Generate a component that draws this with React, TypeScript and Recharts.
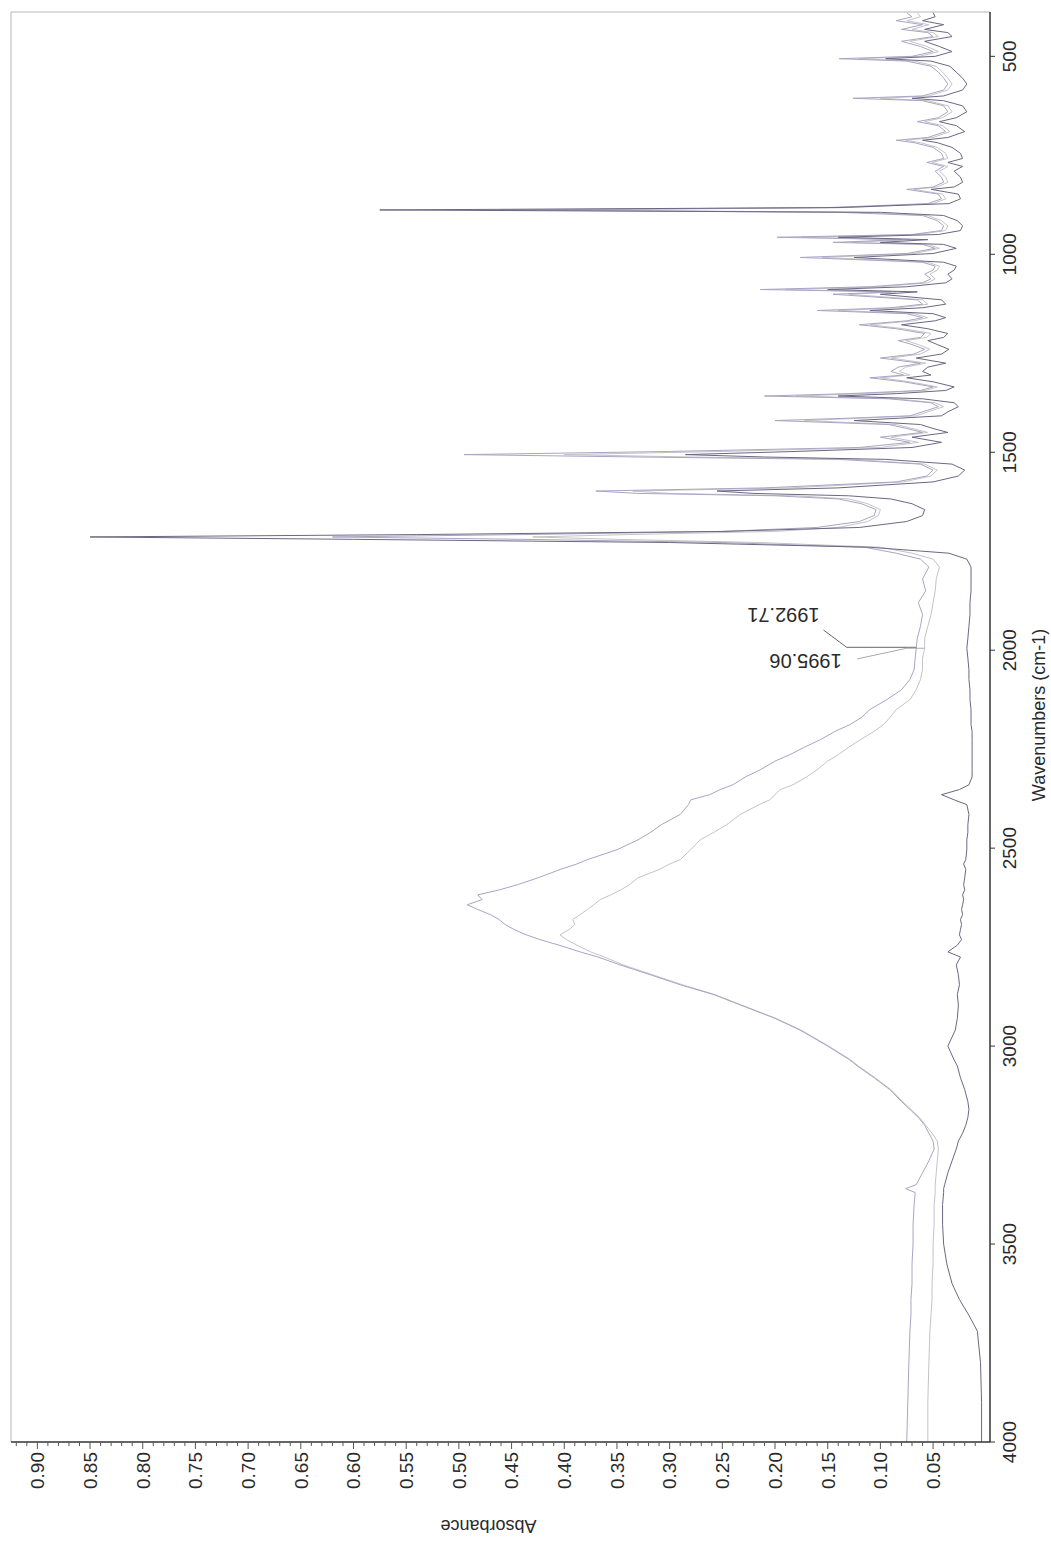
import { LineChart, Line, XAxis, YAxis, ReferenceLine, ReferenceDot } from 'recharts'

// IR spectrum, three overlaid scans.
// wavenumbers (cm-1), descending
const wavenumbers = [
  // 4000-1755
  4000, 3900, 3800, 3720, 3680, 3640, 3600, 3550, 3500, 3450,
  3400, 3370, 3360, 3350, 3320, 3290, 3260, 3240, 3220, 3200,
  3180, 3160, 3140, 3110, 3080, 3050, 3035, 3000, 2960, 2930,
  2896, 2870, 2845, 2820, 2795, 2775, 2762, 2745, 2731, 2719,
  2705, 2693, 2680, 2668, 2655, 2643, 2630, 2618, 2605, 2592,
  2575, 2554, 2540, 2529, 2504, 2479, 2460, 2441, 2415, 2390,
  2378, 2365, 2352, 2340, 2320, 2302, 2280, 2264, 2245, 2226,
  2205, 2188, 2170, 2150, 2125, 2100, 2074, 2049, 2020, 1995,
  1970, 1940, 1910, 1880, 1850, 1820, 1790, 1770, 1755,
  // carbonyl and fingerprint
  1740, 1728, 1720, 1714, 1708, 1700, 1690, 1675, 1660, 1645, 1630,
  1618, 1610, 1604, 1598, 1590, 1575, 1560, 1545, 1530,
  1518, 1512, 1506, 1498, 1488, 1475,
  1462, 1450, 1440, 1430, 1420, 1414, 1408, 1398, 1385,
  1375, 1365, 1358, 1352, 1344, 1335, 1322, 1312, 1305, 1296,
  1285, 1275, 1262, 1252, 1240, 1228, 1218, 1210, 1200, 1188, 1178, 1168, 1160,
  1150, 1142, 1135, 1126, 1115, 1101, 1095, 1089, 1082, 1072, 1062, 1050, 1040,
  1030, 1020, 1008, 998, 985, 975, 970, 963, 957, 950, 940,
  928, 915, 902, 894, 888, 882, 872, 860, 848, 836, 830, 818, 805,
  790, 778, 768, 758, 745, 730, 718, 712, 705, 690, 675, 665, 655, 640,
  625, 612, 606, 600, 585, 570, 555, 540, 525, 512, 506, 500, 488, 475, 462, 450, 440, 432, 420, 410, 400, 390,
]

const purpleTrace = [
  .075, .074, .073, .072, .071, .071, .070, .070, .069, .069,
  .068, .067, .076, .066, .060, .054, .049, .050, .054, .058,
  .064, .072, .080, .091, .106, .122, .129, .150, .176, .200,
  .233, .258, .290, .318, .347, .368, .385, .405, .423, .436,
  .448, .456, .462, .470, .482, .492, .478, .482, .461, .444,
  .425, .404, .388, .378, .350, .330, .318, .308, .290, .282,
  .280, .262, .252, .240, .228, .214, .200, .186, .172, .157,
  .143, .129, .118, .110, .094, .080, .072, .068, .067, .066,
  .065, .062, .060, .064, .057, .060, .054, .062, .085,
  .115, .250, .440, .620, .440, .250, .160, .120, .106, .104, .118,
  .140, .200, .330, .370, .210, .085, .056, .050, .062,
  .140, .330, .495, .300, .120, .072,
  .100, .060, .075, .092, .200, .130, .072, .060, .045,
  .052, .092, .210, .130, .062, .050, .078, .110, .078, .090,
  .083, .062, .100, .068, .058, .070, .083, .062, .058, .085, .120, .075, .060,
  .075, .160, .090, .060, .065, .145, .090, .214, .110, .060, .052, .058, .050,
  .048, .060, .176, .075, .048, .060, .145, .080, .198, .070, .042,
  .040, .046, .060, .140, .460, .150, .055, .042, .045, .075, .050, .040, .042,
  .048, .040, .056, .040, .042, .050, .068, .085, .055, .038, .045, .065, .045, .036,
  .040, .060, .126, .060, .040, .036, .040, .045, .052, .075, .139, .070, .050, .062, .080, .050, .055, .080, .060, .085, .070, .075,
]

const greyTrace = [
  .055, .055, .054, .053, .052, .051, .051, .050, .050, .049,
  .049, .048, .048, .048, .047, .046, .045, .046, .051, .057,
  .063, .071, .079, .090, .105, .121, .128, .149, .175, .199,
  .232, .257, .288, .316, .344, .362, .375, .388, .398, .404,
  .395, .390, .392, .385, .378, .372, .366, .356, .346, .338,
  .330, .310, .300, .290, .280, .271, .258, .246, .233, .215,
  .205, .200, .195, .183, .170, .160, .150, .140, .130, .119,
  .106, .097, .091, .085, .072, .066, .062, .060, .060, .058,
  .058, .055, .052, .050, .048, .047, .044, .050, .070,
  .100, .215, .350, .430, .340, .200, .140, .112, .102, .100, .112,
  .130, .180, .300, .335, .185, .078, .052, .046, .058,
  .125, .280, .400, .250, .100, .064,
  .090, .055, .070, .085, .172, .118, .066, .055, .040,
  .048, .085, .180, .115, .057, .046, .072, .100, .072, .082,
  .076, .057, .090, .062, .053, .064, .076, .056, .052, .078, .110, .068, .055,
  .068, .140, .082, .055, .060, .130, .085, .190, .100, .055, .048, .053, .046,
  .044, .055, .155, .068, .044, .055, .128, .072, .175, .064, .038,
  .036, .042, .055, .120, .400, .130, .050, .038, .041, .068, .046, .036, .038,
  .044, .036, .051, .036, .038, .046, .062, .076, .050, .034, .041, .058, .041, .032,
  .036, .055, .100, .054, .036, .032, .036, .041, .047, .068, .120, .063, .045, .056, .072, .045, .050, .070, .054, .075, .062, .065,
]

const darkTrace = [
  .004, .004, .005, .008, .016, .025, .032, .037, .040, .041,
  .041, .040, .040, .039, .036, .032, .028, .026, .022, .019,
  .017, .016, .017, .020, .024, .027, .030, .036, .029, .027,
  .026, .027, .025, .026, .028, .024, .036, .027, .023, .025,
  .024, .023, .024, .022, .023, .022, .021, .022, .020, .021,
  .020, .019, .021, .019, .018, .018, .017, .017, .016, .018,
  .030, .042, .025, .016, .013, .013, .013, .013, .013, .013,
  .013, .014, .014, .014, .015, .015, .016, .016, .017, .018,
  .017, .016, .015, .015, .014, .014, .014, .018, .035,
  .110, .300, .600, .850, .540, .250, .120, .075, .060, .058, .070,
  .090, .130, .220, .255, .140, .050, .026, .020, .032,
  .095, .210, .285, .180, .070, .042,
  .070, .036, .050, .062, .125, .082, .042, .036, .026,
  .030, .060, .140, .085, .038, .030, .050, .075, .052, .060,
  .055, .038, .066, .042, .035, .046, .055, .040, .036, .055, .080, .048, .038,
  .050, .110, .060, .038, .042, .100, .065, .150, .075, .038, .032, .036, .030,
  .028, .040, .125, .050, .028, .040, .100, .055, .140, .045, .024,
  .022, .027, .040, .100, .575, .140, .035, .024, .026, .052, .030, .022, .024,
  .030, .022, .036, .022, .024, .032, .046, .060, .036, .020, .028, .044, .028, .018,
  .022, .040, .070, .040, .022, .018, .022, .028, .034, .052, .095, .048, .032, .044, .058, .032, .036, .058, .040, .060, .048, .050,
]

const wavenumberTicks = [500, 1000, 1500, 2000, 2500, 3000, 3500, 4000]
const absorbanceTicks = [
  0.01, 0.02, 0.03, 0.04, 0.05, 0.06, 0.07, 0.08, 0.09, 0.10,
  0.11, 0.12, 0.13, 0.14, 0.15, 0.16, 0.17, 0.18, 0.19, 0.20,
  0.21, 0.22, 0.23, 0.24, 0.25, 0.26, 0.27, 0.28, 0.29, 0.30,
  0.31, 0.32, 0.33, 0.34, 0.35, 0.36, 0.37, 0.38, 0.39, 0.40,
  0.41, 0.42, 0.43, 0.44, 0.45, 0.46, 0.47, 0.48, 0.49, 0.50,
  0.51, 0.52, 0.53, 0.54, 0.55, 0.56, 0.57, 0.58, 0.59, 0.60,
  0.61, 0.62, 0.63, 0.64, 0.65, 0.66, 0.67, 0.68, 0.69, 0.70,
  0.71, 0.72, 0.73, 0.74, 0.75, 0.76, 0.77, 0.78, 0.79, 0.80,
  0.81, 0.82, 0.83, 0.84, 0.85, 0.86, 0.87, 0.88, 0.89, 0.90,
  0.91, 0.92,
]

// peak labels and their leader lines, in data coordinates
const peakLabels = [
  { text: '1992.71', w: 1911, a: 0.192 },
  { text: '1995.06', w: 2027, a: 0.171 },
]
const leaders = [
  { from: { x: 1992.71, y: 0.066 }, to: { x: 1992.71, y: 0.132 }, color: '#666' },
  { from: { x: 1992.71, y: 0.132 }, to: { x: 1949, y: 0.154 }, color: '#666' },
  { from: { x: 1995.06, y: 0.058 }, to: { x: 1995.06, y: 0.075 }, color: '#aaa' },
  { from: { x: 1995.06, y: 0.075 }, to: { x: 2022, y: 0.122 }, color: '#aaa' },
]

const rows = wavenumbers.map((w, i) => ({
  w,
  purple: purpleTrace[i],
  grey: greyTrace[i],
  dark: darkTrace[i],
}))

const FONT = '"Liberation Sans", Arial, sans-serif'
const INK = '#2a2a2a'

function WaveTick(props: any) {
  const { x, y, payload } = props
  return (
    <g>
      <line x1={x} y1={y} x2={x} y2={y + 5} stroke="#333" />
      <text x={x} y={y + 26} textAnchor="middle" fontSize={19} fill={INK} fontFamily={FONT}>
        {payload.value}
      </text>
    </g>
  )
}

function AbsTick(props: any) {
  const { x, y, payload } = props
  const v = payload.value as number
  const major = Math.round(v * 100) % 5 === 0
  return (
    <g>
      <line x1={x - (major ? 7 : 4)} y1={y} x2={x} y2={y} stroke="#555" />
      {major && (
        <text x={x - 10} y={y} dy="0.36em" textAnchor="end" fontSize={19} fill={INK} fontFamily={FONT}>
          {v.toFixed(2)}
        </text>
      )}
    </g>
  )
}

function PeakText({ cx, cy, text }: { cx: number; cy: number; text: string }) {
  return (
    <text
      x={cx}
      y={cy}
      dy="0.36em"
      transform={`rotate(-90 ${cx} ${cy})`}
      textAnchor="middle"
      fontSize={20}
      fill={INK}
      fontFamily={FONT}
    >
      {text}
    </text>
  )
}

export default function App() {
  return (
    <div style={{ position: 'absolute', left: 0, top: 0, width: 1051, height: 1543, overflow: 'hidden', background: '#fff' }}>
      {/* the printout is turned a quarter turn, so draw it upright and rotate */}
      <div style={{ position: 'absolute', left: 0, top: 1543, width: 1543, height: 1051, transform: 'rotate(-90deg)', transformOrigin: '0 0' }}>
        <LineChart width={1543} height={1051} data={rows} margin={{ top: 11, right: 12, bottom: 0, left: 0 }}>
          <XAxis
            dataKey="w"
            type="number"
            domain={[388, 4000]}
            reversed
            allowDataOverflow
            ticks={wavenumberTicks}
            interval={0}
            height={61}
            tickSize={0}
            tickMargin={0}
            tickLine={false}
            tick={<WaveTick />}
            axisLine={{ stroke: '#333', strokeWidth: 1.5 }}
            label={{
              content: ({ viewBox }: any) => (
                <text x={viewBox.x + viewBox.width / 2 + 12} y={viewBox.y + 55} textAnchor="middle" fontSize={18} fill={INK} fontFamily={FONT}>
                  Wavenumbers (cm-1)
                </text>
              ),
            }}
          />
          <YAxis
            type="number"
            domain={[-0.004, 0.925]}
            allowDataOverflow
            ticks={absorbanceTicks}
            interval={0}
            width={101}
            tickSize={0}
            tickMargin={0}
            tickLine={false}
            tick={<AbsTick />}
            axisLine={{ stroke: '#333', strokeWidth: 1.5 }}
            label={{
              content: ({ viewBox }: any) => {
                const cx = viewBox.x + 17
                const cy = viewBox.y + viewBox.height / 2 - 12
                return (
                  <text x={cx} y={cy} dy="0.36em" transform={`rotate(-90 ${cx} ${cy})`} textAnchor="middle" fontSize={18} fill={INK} fontFamily={FONT}>
                    Absorbance
                  </text>
                )
              },
            }}
          />
          <ReferenceLine y={0.925} stroke="#b5b5b5" />
          <ReferenceLine x={388} stroke="#b5b5b5" />
          <Line dataKey="grey" type="linear" stroke="#c4c4c4" strokeWidth={1} dot={false} isAnimationActive={false} />
          <Line dataKey="purple" type="linear" stroke="#aaa4c4" strokeWidth={1} dot={false} isAnimationActive={false} />
          <Line dataKey="dark" type="linear" stroke="#6c6782" strokeWidth={1} dot={false} isAnimationActive={false} />
          {leaders.map((l, i) => (
            <ReferenceLine key={i} segment={[l.from, l.to]} stroke={l.color} strokeWidth={1} />
          ))}
          {peakLabels.map((p) => (
            <ReferenceDot
              key={p.text}
              x={p.w}
              y={p.a}
              r={0}
              shape={(sp: any) => <PeakText cx={sp.cx} cy={sp.cy} text={p.text} />}
            />
          ))}
        </LineChart>
      </div>
    </div>
  )
}
